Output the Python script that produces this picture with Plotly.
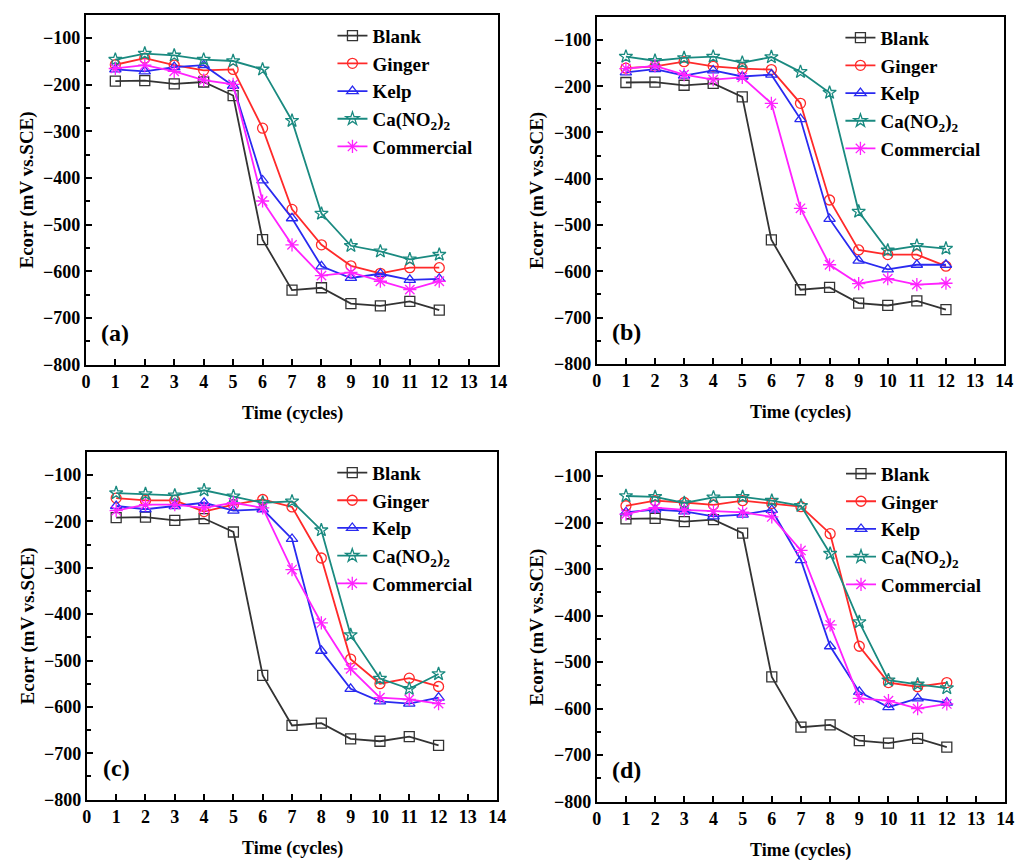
import plotly.graph_objects as go

cycles = list(range(1, 13))
series_names = ["Blank", "Ginger", "Kelp", "Ca(NO<sub>2</sub>)<sub>2</sub>", "Commercial"]

blank = [-192, -191, -198, -194, -223, -532, -640, -635, -669, -674, -664, -683]

a_ginger = [-157, -143, -158, -169, -167, -293, -467, -543, -588, -604, -592, -592]
a_kelp = [-167, -171, -162, -158, -202, -405, -486, -589, -614, -605, -618, -616]
a_ca = [-146, -133, -137, -146, -149, -167, -277, -476, -545, -557, -574, -564]
a_comm = [-165, -158, -171, -190, -199, -449, -543, -609, -602, -621, -639, -621]

b_ginger = [-161, -157, -147, -157, -162, -164, -237, -446, -554, -564, -564, -589]
b_kelp = [-170, -163, -177, -166, -179, -175, -271, -487, -577, -596, -586, -586]
b_ca = [-136, -145, -139, -136, -149, -137, -169, -214, -471, -555, -545, -551]
b_comm = [-162, -156, -175, -186, -181, -237, -464, -586, -627, -616, -629, -626]

c_ginger = [-150, -155, -155, -179, -164, -153, -169, -279, -497, -550, -538, -556]
c_kelp = [-167, -174, -167, -160, -177, -174, -238, -479, -561, -588, -593, -580]
c_ca = [-139, -141, -144, -133, -146, -160, -157, -219, -445, -539, -561, -529]
c_comm = [-177, -164, -164, -171, -160, -171, -304, -419, -518, -580, -584, -593]

d_ginger = [-164, -153, -157, -162, -153, -159, -166, -224, -466, -544, -553, -544]
d_kelp = [-178, -172, -176, -187, -183, -173, -281, -466, -564, -597, -578, -587]
d_ca = [-143, -145, -158, -146, -145, -153, -164, -267, -414, -539, -548, -556]
d_comm = [-182, -168, -173, -176, -178, -188, -260, -420, -578, -583, -600, -590]

panels = [
    ("(a)", [blank, a_ginger, a_kelp, a_ca, a_comm]),
    ("(b)", [blank, b_ginger, b_kelp, b_ca, b_comm]),
    ("(c)", [blank, c_ginger, c_kelp, c_ca, c_comm]),
    ("(d)", [blank, d_ginger, d_kelp, d_ca, d_comm]),
]

colors = ["#333333", "#ff2a2a", "#2a2af0", "#1a8a80", "#ff22ff"]
symbols = ["square-open", "circle-open", "triangle-up-open", "star-open", "asterisk-open"]

W, H = 1024, 868
# plot-area boxes in page pixels: left, right, top, bottom
boxes = [(82, 500, 15, 369), (600, 1013, 17, 368), (83, 499, 457, 809), (600, 1014, 458, 811)]

FONT = "Liberation Serif"

fig = go.Figure()
layout = {}
annotations = []
for i, ((label, data), (l, r, t, b)) in enumerate(zip(panels, boxes)):
    n = "" if i == 0 else str(i + 1)
    xa, ya = "x" + n, "y" + n
    leg = "legend" + n
    for j, (name, vals) in enumerate(zip(series_names, data)):
        fig.add_trace(go.Scatter(
            x=cycles, y=vals, name=name, mode="lines+markers",
            xaxis=xa, yaxis=ya, legend=leg,
            line=dict(color=colors[j], width=1.8),
            marker=dict(symbol=symbols[j], size=10 if j != 4 else 11, color=colors[j],
                        line=dict(width=1.3, color=colors[j])),
        ))
    xd = [l / W, r / W]
    yd = [1 - b / H, 1 - t / H]
    common = dict(showline=True, linewidth=2, linecolor="black", mirror=True,
                  ticks="inside", ticklen=6, tickwidth=2, tickcolor="black",
                  showgrid=False, zeroline=False,
                  tickfont=dict(family=FONT, size=18, color="black", weight="bold"))
    layout["xaxis" + n] = dict(domain=xd, range=[0, 14], dtick=1, tick0=0,
                               anchor=ya, **common)
    layout["yaxis" + n] = dict(domain=yd, range=[-800, -50], dtick=100, tick0=-800,
                               anchor=xa,
                               minor=dict(dtick=50, ticks="inside", ticklen=4,
                                          tickwidth=2, tickcolor="black"),
                               **common)
    layout[leg] = dict(x=(l + 250 / 418 * (r - l)) / W, y=1 - (t + 2) / H,
                       xanchor="left", yanchor="top", bgcolor="rgba(0,0,0,0)",
                       font=dict(family=FONT, size=19, color="black", weight="bold"),
                       tracegroupgap=0, itemwidth=30)
    annotations.append(dict(text="Time (cycles)", xref="paper", yref="paper",
                            x=(l + r) / 2 / W, y=1 - (b + 49) / H, showarrow=False,
                            xanchor="center", yanchor="middle",
                            font=dict(family=FONT, size=18, color="black", weight="bold")))
    annotations.append(dict(text="Ecorr (mV vs.SCE)", xref="paper", yref="paper",
                            x=(l - 60) / W, y=1 - ((t + b) / 2) / H, textangle=-90,
                            showarrow=False, xanchor="center", yanchor="middle",
                            font=dict(family=FONT, size=19, color="black", weight="bold")))
    annotations.append(dict(text=label, xref="paper", yref="paper",
                            x=(l + 30) / W, y=1 - (b - 32) / H, showarrow=False,
                            xanchor="center", yanchor="middle",
                            font=dict(family=FONT, size=24, color="black", weight="bold")))

fig.update_layout(width=W, height=H, margin=dict(l=0, r=0, t=0, b=0),
                  paper_bgcolor="white", plot_bgcolor="white",
                  annotations=annotations, **layout)
fig.write_html("out.html", config={"displayModeBar": False},
               post_script="document.body.style.margin='0';"
                           "document.body.style.overflow='hidden';")
